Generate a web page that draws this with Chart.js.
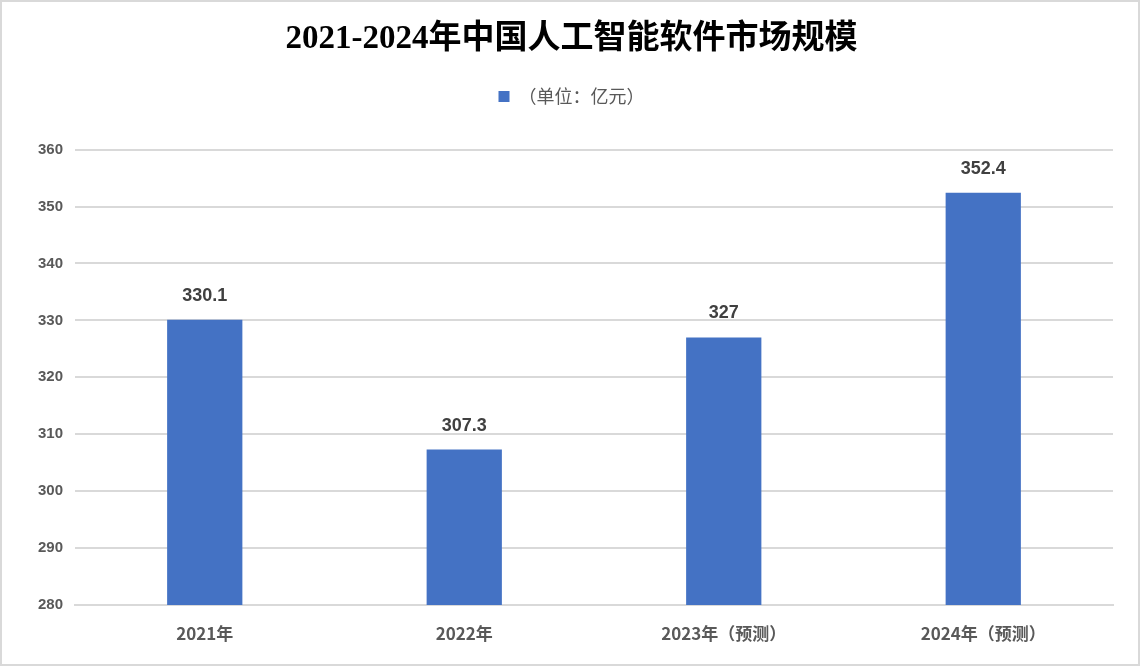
<!DOCTYPE html>
<html>
<head>
<meta charset="utf-8">
<script src="https://cdn.jsdelivr.net/npm/chart.js@4/dist/chart.umd.min.js"></script>
<style>
  html, body { margin: 0; padding: 0; background: #fff; }
  #wrap { width: 1140px; height: 666px; position: relative; }
</style>
</head>
<body>
<div id="wrap"><canvas id="marketChart"></canvas></div>
<script>
const categories = ['2021年', '2022年', '2023年（预测）', '2024年（预测）'];
const marketSize = [330.1, 307.3, 327, 352.4];
const seriesName = '（单位：亿元）';
const chartTitle = '2021-2024年中国人工智能软件市场规模';

const barBlue = '#4472C4';
const labelGray = '#595959';

// white background + light gray frame around the picture
const framePlugin = {
    id: 'frame',
    beforeInit(chart) {
        // push the plot area down below the legend
        const origFit = chart.legend.fit;
        chart.legend.fit = function() {
            origFit.call(this);
            this.height += 34;
        };
    },
    beforeDraw(chart) {
        const ctx = chart.ctx;
        ctx.save();
        ctx.fillStyle = '#ffffff';
        ctx.fillRect(0, 0, chart.width, chart.height);
        ctx.strokeStyle = '#d9d9d9';
        ctx.lineWidth = 2;
        ctx.strokeRect(1, 1, chart.width - 2, chart.height - 2);
        ctx.restore();
    }
};

// value labels above each bar
const valueLabels = {
    id: 'valueLabels',
    afterDatasetsDraw(chart) {
        const ctx = chart.ctx;
        const meta = chart.getDatasetMeta(0);
        ctx.save();
        ctx.font = 'bold 18px "Liberation Sans", Arial, sans-serif';
        ctx.fillStyle = '#404040';
        ctx.textAlign = 'center';
        ctx.textBaseline = 'middle';
        meta.data.forEach(function(bar, i){
            ctx.fillText(String(marketSize[i]), bar.x, bar.y - 24);
        });
        ctx.restore();
    }
};

let ctx = document.getElementById('marketChart').getContext('2d');
let marketChart = new Chart(ctx, {
    type: 'bar',
    data: {
        labels: categories,
        datasets: [{
            label: seriesName,
            data: marketSize,
            backgroundColor: barBlue,
            borderWidth: 0,
            barPercentage: 0.29,
            categoryPercentage: 1
        }]
    },
    options: {
        responsive: true,
        maintainAspectRatio: false,
        animation: false,
        layout: {
            padding: { left: 30, right: 27, top: 0, bottom: 21 }
        },
        plugins: {
            title: {
                display: true,
                text: chartTitle,
                color: '#000000',
                padding: { top: 20, bottom: 18 },
                font: {
                    family: '"Liberation Serif", "Noto Sans CJK SC", serif',
                    size: 33,
                    weight: 'bold',
                    lineHeight: 1.2
                }
            },
            legend: {
                display: true,
                labels: {
                    color: labelGray,
                    boxWidth: 11,
                    boxHeight: 11,
                    padding: 10,
                    font: {
                        family: '"Noto Sans CJK SC", sans-serif',
                        size: 18
                    }
                }
            },
            tooltip: { enabled: false }
        },
        scales: {
            x: {
                grid: { display: false },
                border: { display: true, color: '#d9d9d9', width: 2 },
                ticks: {
                    color: labelGray,
                    padding: 10,
                    font: {
                        family: '"Noto Sans CJK SC", sans-serif',
                        size: 17,
                        weight: 'bold'
                    }
                },
                afterFit(scale) {
                    scale.height = 40;
                }
            },
            y: {
                min: 280,
                max: 360,
                ticks: {
                    stepSize: 10,
                    color: labelGray,
                    padding: 12,
                    font: {
                        family: '"Liberation Sans", Arial, sans-serif',
                        size: 15,
                        weight: 'bold'
                    }
                },
                grid: { color: '#d9d9d9', lineWidth: 2, drawTicks: false },
                border: { display: false },
                afterFit(scale) {
                    scale.width = 45;
                }
            }
        }
    },
    plugins: [framePlugin, valueLabels]
});
</script>
</body>
</html>
